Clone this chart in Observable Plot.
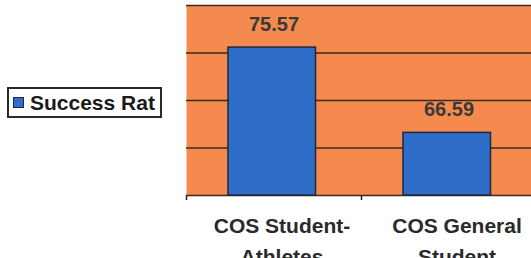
<!DOCTYPE html>
<html>
<head>
<meta charset="utf-8">
<script src="https://cdn.jsdelivr.net/npm/d3@7"></script>
<script src="https://cdn.jsdelivr.net/npm/@observablehq/plot@0.6"></script>
<style>
  html, body { margin: 0; padding: 0; background: #fff; overflow: hidden; }
  #wrap { position: relative; width: 531px; height: 258px; overflow: hidden; font-family: "Liberation Sans", Arial, sans-serif; }
  #legend { position: absolute; left: 7px; top: 87px; width: 151px; height: 27px; border: 2px solid #2a2a2a; background: #fff; overflow: hidden; white-space: nowrap; }
  #legend .sw { position: absolute; left: 4px; top: 8px; width: 9px; height: 9px; border: 1.5px solid #1e2a3a; }
  #legend .lb { position: absolute; left: 21px; top: 0px; font-size: 21px; font-weight: bold; color: #1a1a1a; line-height: 27px; }
</style>
</head>
<body>
<div id="wrap"><div id="legend"><div class="sw"></div><div class="lb"></div></div></div>
<script>
const categories = ["COS Student-\nAthletes", "COS General\nStudent"];
const values = [75.57, 66.59];
const valueLabels = ["75.57", "66.59"];
const seriesName = "Success Rat";
const yTicks = [60, 65, 70, 75, 80];

const orange = "#F48A4E";
const blue = "#2F6EC8";
const dark = "#3b2a20";

const data = categories.map((c, i) => ({i, cat: c, value: values[i], label: valueLabels[i]}));

const chart = Plot.plot({
  width: 531,
  height: 258,
  marginLeft: 186,
  marginRight: 0,
  marginTop: 5,
  marginBottom: 63,
  style: {fontFamily: "'Liberation Sans', Arial, sans-serif", background: "transparent", overflow: "hidden"},
  x: {type: "linear", domain: [0, categories.length], range: [186, 536], axis: null},
  y: {domain: [yTicks[0], yTicks[yTicks.length - 1]], axis: null},
  marks: [
    Plot.frame({fill: orange, stroke: "none"}),
    Plot.ruleY(yTicks, {stroke: dark, strokeWidth: 1.6}),
    Plot.rectY(data, {
      x1: d => d.i + 0.24,
      x2: d => d.i + 0.74,
      y1: yTicks[0],
      y2: "value",
      fill: blue,
      stroke: "#1b2840",
      strokeWidth: 1.5
    }),
    Plot.text(data, {
      x: d => d.i + 0.5,
      y: "value",
      text: "label",
      dy: -17,
      lineAnchor: "bottom",
      fontSize: 20,
      fontWeight: "bold",
      fill: "#3a3a3a"
    }),
    Plot.axisX({ticks: d3.range(categories.length + 1), tickFormat: () => "", tickSize: 5, stroke: "#222", strokeWidth: 1.5}),
    Plot.text(data, {
      x: d => d.i + 0.5,
      frameAnchor: "bottom",
      text: "cat",
      lineAnchor: "top",
      lineHeight: 1.45,
      dx: 8,
      dy: 16,
      fontSize: 21,
      fontWeight: "bold",
      fill: "#2a2a2a"
    })
  ]
});

const wrap = document.getElementById("wrap");
wrap.insertBefore(chart, wrap.firstChild);
document.querySelector("#legend .sw").style.background = blue;
document.querySelector("#legend .lb").textContent = seriesName;
</script>
</body>
</html>
